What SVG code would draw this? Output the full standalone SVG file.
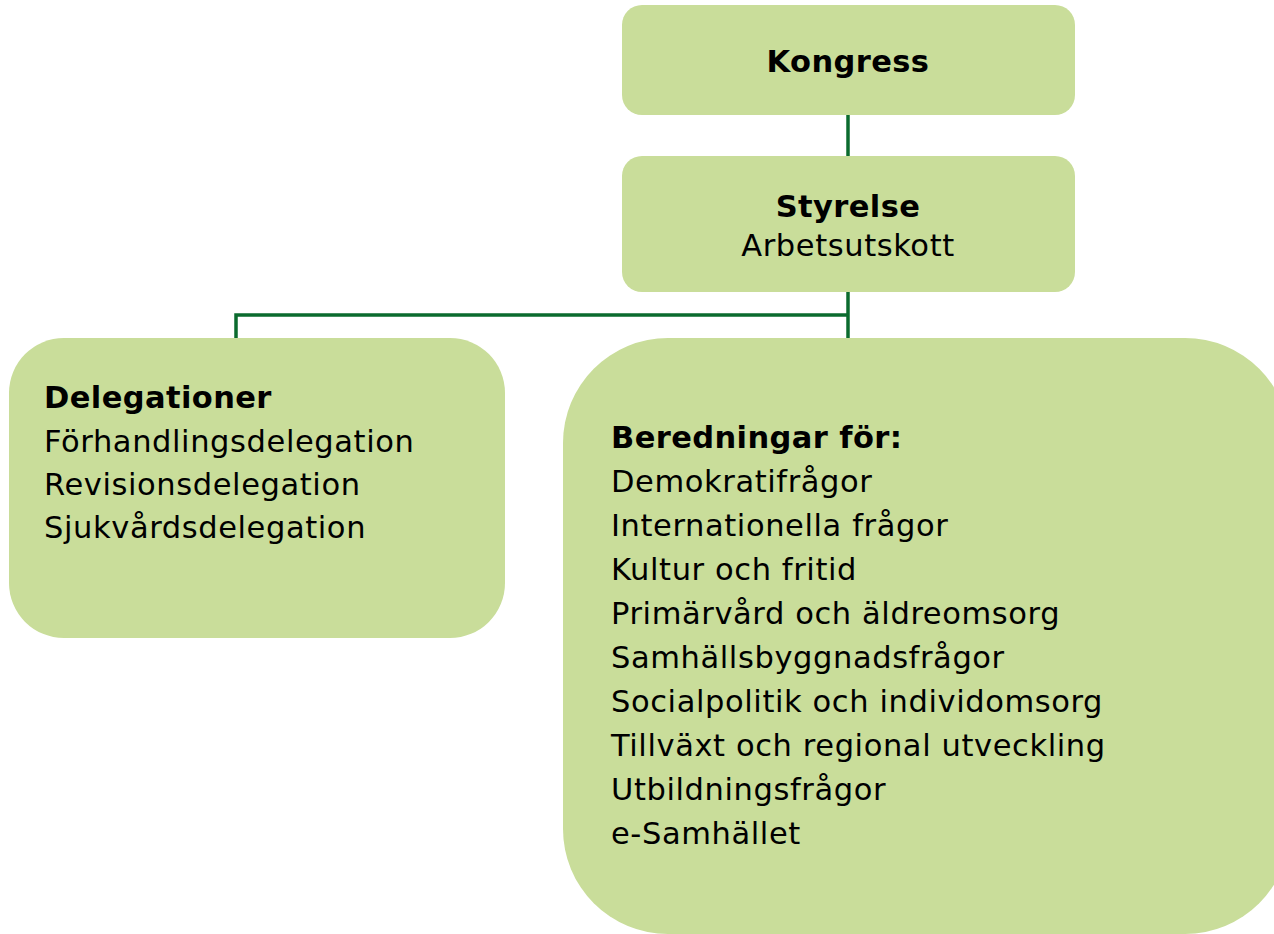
<svg xmlns="http://www.w3.org/2000/svg" width="1274" height="934" viewBox="0 0 1274 934">
<style>
.box{fill:#C9DD9A;}
.t{font-family:"DejaVu Sans","Verdana",sans-serif;font-size:30.5px;letter-spacing:0.6px;fill:#000;}
.b{font-weight:bold;letter-spacing:0.4px;}
.c{fill:none;stroke:#0B6B2E;stroke-width:3.5;}
</style>
<rect width="1274" height="934" fill="#fff"/>
<g id="connectors">
<line class="c" x1="848" y1="115" x2="848" y2="157"/>
<line class="c" x1="848" y1="291" x2="848" y2="340"/>
<polyline class="c" points="848,315 236,315 236,340"/>
</g>
<g id="kongress">
<rect class="box" x="622" y="5" width="453" height="110" rx="20"/>
<text class="t b" x="848" y="72" text-anchor="middle">Kongress</text>
</g>
<g id="styrelse">
<rect class="box" x="622" y="156" width="453" height="136" rx="20"/>
<text class="t b" x="848" y="217" text-anchor="middle">Styrelse</text>
<text class="t" x="848" y="256" text-anchor="middle">Arbetsutskott</text>
</g>
<g id="delegationer">
<rect class="box" x="9" y="338" width="496" height="300" rx="55"/>
<text class="t b" x="44" y="408">Delegationer</text>
<text class="t" x="44" y="452">Förhandlingsdelegation</text>
<text class="t" x="44" y="495">Revisionsdelegation</text>
<text class="t" x="44" y="538">Sjukvårdsdelegation</text>
</g>
<g id="beredningar">
<rect class="box" x="563" y="338" width="727" height="596" rx="105"/>
<text class="t b" x="611" y="448">Beredningar för:</text>
<text class="t" x="611" y="492">Demokratifrågor</text>
<text class="t" x="611" y="536">Internationella frågor</text>
<text class="t" x="611" y="580">Kultur och fritid</text>
<text class="t" x="611" y="624">Primärvård och äldreomsorg</text>
<text class="t" x="611" y="668">Samhällsbyggnadsfrågor</text>
<text class="t" x="611" y="712">Socialpolitik och individomsorg</text>
<text class="t" x="611" y="756">Tillväxt och regional utveckling</text>
<text class="t" x="611" y="800">Utbildningsfrågor</text>
<text class="t" x="611" y="844">e-Samhället</text>
</g>
</svg>
